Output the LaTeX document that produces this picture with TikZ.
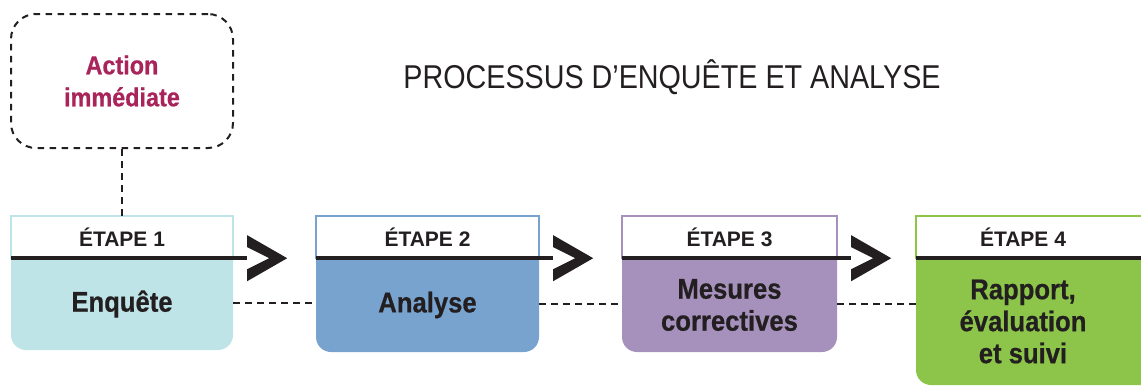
\documentclass[tikz,border=0pt]{standalone}
\usepackage{fontspec}
\setmainfont{Liberation Sans}
\newfontfamily\titlefont[FakeStretch=0.87]{Liberation Sans}
\newfontfamily\boxfont[FakeStretch=0.9,BoldFeatures={FakeBold=0.6}]{Liberation Sans}
\usetikzlibrary{calc}

\definecolor{ink}{HTML}{231F20}
\definecolor{actred}{HTML}{A8245A}
\definecolor{stepA}{HTML}{BFE4E8}
\definecolor{stepB}{HTML}{78A3CF}
\definecolor{stepC}{HTML}{A690BC}
\definecolor{stepD}{HTML}{8CC54A}

\begin{document}
\begin{tikzpicture}[x=1pt,y=-1pt,
  head/.style={font=\bfseries\fontsize{21}{24}\selectfont,text=ink,minimum height=42,inner sep=0},
  body/.style={font=\boxfont\bfseries\fontsize{28.5}{32}\selectfont,text=ink,align=center,inner sep=0},
  link/.style={draw=ink,line width=2pt,dash pattern=on 6.5pt off 5.5pt}]

\useasboundingbox (0,0) rectangle (1141,386);

\node[font=\titlefont\fontsize{33}{40}\selectfont,text=ink,anchor=base] (title) at (672,88) {PROCESSUS D’ENQUÊTE ET ANALYSE};

% action box
\node[link,rounded corners=25pt,
  minimum width=222,minimum height=134,align=center,text=actred,
  font=\boxfont\bfseries\fontsize{26}{32}\selectfont] (act) at (122,81) {Action\\immédiate};

% steps
\foreach \n/\l/\r/\cx/\b/\col/\txt in {1/11/233/122/350/stepA/Enquête,
  2/316/539/427.5/352/stepB/Analyse,
  3/622/837/729.5/352/stepC/{Mesures\\correctives},
  4/916/1160/1023/385/stepD/{Rapport,\\évaluation\\et suivi}}{%
  \fill[\col,rounded corners=15pt] (\l,240) rectangle (\r,\b);
  \draw[\col,line width=1.5pt,fill=white] (\l,216) rectangle (\r,258);
  \node[head,minimum width=2*(\cx-\l)] (h\n) at (\cx,237) {ÉTAPE \n};
  \node[body,minimum width=2*(\cx-\l),minimum height=\b-258] (b\n) at (\cx,{(258+\b)/2}) {\txt};
  \draw[ink,line width=4.5pt] (\l,258) -- (\r+14,258);
}

% chevrons
\foreach \n in {1,2,3}{%
  \fill[ink] ([xshift=14pt]h\n.south east) ++(0,-23) -- ++(40,23) -- ++(-40,23)
    -- ++(0,-12) -- ++(22,-11) -- ++(-22,-11) -- cycle;
}

% links
\draw[link] (act.south) -- (h1.north);
\foreach \x/\y in {1/2,2/3,3/4}{%
  \draw[link] ($(b\x.east)+(0,-1)$) -- ($(b\x.east -| b\y.west)+(0,-1)$);
}

\end{tikzpicture}
\end{document}
